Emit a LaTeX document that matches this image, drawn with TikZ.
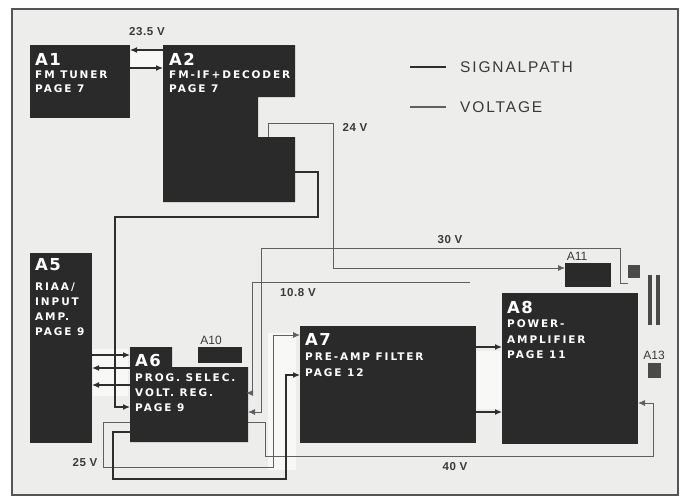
\documentclass[tikz,border=0pt]{standalone}
\usepackage{fontspec}
\setmainfont{Liberation Sans}
\newfontfamily\headfont[LetterSpace=8]{DejaVu Sans}
\newfontfamily\subfont[LetterSpace=18]{DejaVu Sans}
\newfontfamily\legfont[LetterSpace=12]{Liberation Sans}
\newfontfamily\vfont[LetterSpace=5]{Liberation Sans}
\usetikzlibrary{arrows.meta,calc}
\definecolor{bgc}{HTML}{EDEDEB}
\definecolor{boxc}{HTML}{2A2A2A}
\definecolor{sigc}{HTML}{2E2E2E}
\definecolor{voltc}{HTML}{606060}
\definecolor{bandc}{HTML}{F8F8F6}
\definecolor{framec}{HTML}{555555}
\definecolor{labc}{HTML}{3A3A3A}
\definecolor{barc}{HTML}{4A4A4A}
\begin{document}
\begin{tikzpicture}[x=1pt,y=-1pt,
  box/.style={fill=boxc, anchor=north west, inner sep=0pt, outer sep=0pt},
  ghost/.style={anchor=north west, inner sep=0pt, outer sep=0pt},
  hd/.style={text=white, font=\headfont\bfseries\fontsize{16.5}{17}\selectfont, inner sep=0pt, anchor=base west},
  sb/.style={text=white, font=\subfont\bfseries\fontsize{10.5}{11}\selectfont, inner sep=0pt, anchor=base west},
  sig/.style={draw=sigc, line width=1.2pt},
  volt/.style={draw=voltc, line width=0.9pt},
  arr/.style={-{Latex[length=7pt,width=6pt]}},
  vlab/.style={font=\vfont\bfseries\fontsize{11.5}{12}\selectfont, text=labc, inner sep=0pt},
  alab/.style={font=\fontsize{12}{12}\selectfont, text=labc, inner sep=0pt},
  leg/.style={font=\legfont\fontsize{15.5}{16}\selectfont, text=labc, inner sep=0pt, anchor=west},
]
\useasboundingbox (0,0) rectangle (684,498);
\fill[white] (0,0) rectangle (684,498);
\fill[bgc] (12,9) rectangle (678,495);
\draw[framec, line width=1.5pt] (12,9) rectangle (678,495);

% light bands
\fill[bandc] (131,51) rectangle (163,67);
\fill[bandc] (93,349) rectangle (128,396);
\fill[bandc] (477,351) rectangle (501,409);
\fill[bandc] (268,333) rectangle (296,470);

% boxes
\node[box, minimum width=100pt, minimum height=73pt] (A1) at (30,45) {};
\fill[boxc] (163,45) -- (295,45) -- (295,97) -- (258,97) -- (258,137) -- (295,137) -- (295,202) -- (163,202) -- cycle;
\node[ghost, minimum width=132pt, minimum height=157pt] (A2) at (163,45) {};
\node[box, minimum width=62pt, minimum height=190pt] (A5) at (30,253) {};
\fill[boxc] (130,347) -- (172,347) -- (172,367) -- (248,367) -- (248,442) -- (130,442) -- cycle;
\node[ghost, minimum width=118pt, minimum height=95pt] (A6) at (130,347) {};
\node[box, minimum width=44pt, minimum height=16pt] (A10) at (198,347) {};
\node[box, minimum width=176pt, minimum height=117pt] (A7) at (300,326) {};
\node[box, minimum width=136pt, minimum height=151pt] (A8) at (502,293) {};
\node[box, minimum width=46pt, minimum height=24pt] (A11) at (565,263) {};
\node[box, fill=barc, minimum width=12pt, minimum height=13pt] (sq) at (628,265) {};
\node[box, fill=barc, minimum width=13pt, minimum height=15pt] (A13) at (648,363) {};
\node[box, fill=barc, minimum width=4pt, minimum height=50pt] (bar1) at (648,275) {};
\node[box, fill=barc, minimum width=4pt, minimum height=50pt] (bar2) at (656,275) {};

% box texts
\node[hd] (t1a) at (35,65) {A1};
\node[sb] (t1b) at (35,78) {FM TUNER};
\node[sb] (t1c) at (35,92) {PAGE 7};
\node[hd] (t2a) at (169,65) {A2};
\node[sb] (t2b) at (169,78) {FM-IF+DECODER};
\node[sb] (t2c) at (169,92) {PAGE 7};
\node[hd] (t5a) at (35,270) {A5};
\node[sb] (t5b) at (35,290) {RIAA/};
\node[sb] (t5c) at (35,305) {INPUT};
\node[sb] (t5d) at (35,320) {AMP.};
\node[sb] (t5e) at (35,335) {PAGE 9};
\node[hd] (t6a) at (135,366) {A6};
\node[sb] (t6b) at (135,381) {PROG. SELEC.};
\node[sb] (t6c) at (135,396) {VOLT. REG.};
\node[sb] (t6d) at (135,411) {PAGE 9};
\node[hd] (t7a) at (305,345) {A7};
\node[sb] (t7b) at (305,360) {PRE-AMP FILTER};
\node[sb] (t7c) at (305,376) {PAGE 12};
\node[hd] (t8a) at (507,313) {A8};
\node[sb] (t8b) at (507,327) {POWER-};
\node[sb] (t8c) at (507,343) {AMPLIFIER};
\node[sb] (t8d) at (507,358) {PAGE 11};

% labels
\node[vlab] (l235) at (147,32) {23.5 V};
\node[vlab] (l24) at (355,127) {24 V};
\node[vlab] (l30) at (450,240) {30 V};
\node[vlab] (l108) at (298,293) {10.8 V};
\node[vlab] (l25) at (85,463) {25 V};
\node[vlab] (l40) at (455,467) {40 V};
\node[alab] (lA10) at (211,340) {A10};
\node[alab] (lA11) at (577,256) {A11};
\node[alab] (lA13) at (654,355) {A13};

% legend
\coordinate (ls1) at (410,67); \coordinate (ls2) at (446,67);
\coordinate (lv1) at (410,107); \coordinate (lv2) at (446,107);
\draw[sig, line width=1.8pt] (ls1) -- (ls2);
\draw[volt, line width=1.1pt] (lv1) -- (lv2);
\node[leg] (legs) at (460,67) {SIGNALPATH};
\node[leg] (legv) at (460,107) {VOLTAGE};

% A1 <-> A2
\draw[sig,arr] ($(A2.north west)+(0,5)$) -- ($(A1.north east)+(0,5)$);
\draw[sig,arr] ($(A1.north east)+(0,23)$) -- ($(A2.north west)+(0,23)$);

% 24 V : A2 -> A11
\draw[volt,arr] ($(A2.north west)+(105,92)$) -- (268,123) -- (333,123) -- (333,268) -- ($(A11.north west)+(0,5)$);

% A2 -> A6 signal
\draw[sig,arr] ($(A2.north east)+(0,127)$) -- (318,172) -- (318,217) -- (115,217) -- (115,407) -- ($(A6.north west)+(0,60)$);

% A5 <-> A6
\draw[sig,arr] ($(A5.north east)+(0,102)$) -- ($(A6.north west)+(0,8)$);
\draw[sig,arr] ($(A6.north west)+(0,21)$) -- ($(A5.north east)+(0,115)$);
\draw[sig,arr] ($(A6.north west)+(0,38)$) -- ($(A5.north east)+(0,132)$);

% 10.8 V
\coordinate (v108) at (470,282);
\draw[volt,arr] (v108) -- (252,282) -- (252,393) -- ($(A6.north east)+(-2,46)$);

% 30 V
\coordinate (v30) at (628,283);
\draw[volt,arr] (v30) -- (620,283) -- (620,248) -- (261,248) -- (261,412) -- ($(A6.north east)+(0,65)$);

% 40 V : A6 -> A8
\draw[volt,arr] ($(A6.north east)+(0,75)$) -- (265,422) -- (265,456) -- (653,456) -- (653,403) -- ($(A8.north east)+(0,110)$);

% 25 V : A6 -> A7
\draw[volt,arr] ($(A6.north west)+(0,75)$) -- (103,422) -- (103,467) -- (273,467) -- (273,335) -- ($(A7.north west)+(0,9)$);

% signal A6 -> A7
\draw[sig,arr] ($(A6.north west)+(0,85)$) -- (113,432) -- (113,479) -- (286,479) -- (286,375) -- ($(A7.north west)+(0,49)$);

% A7 -> A8
\draw[sig,arr] ($(A7.north east)+(0,21)$) -- ($(A8.north west)+(0,54)$);
\draw[sig,arr] ($(A7.north east)+(0,86)$) -- ($(A8.north west)+(0,119)$);
\end{tikzpicture}
\end{document}
